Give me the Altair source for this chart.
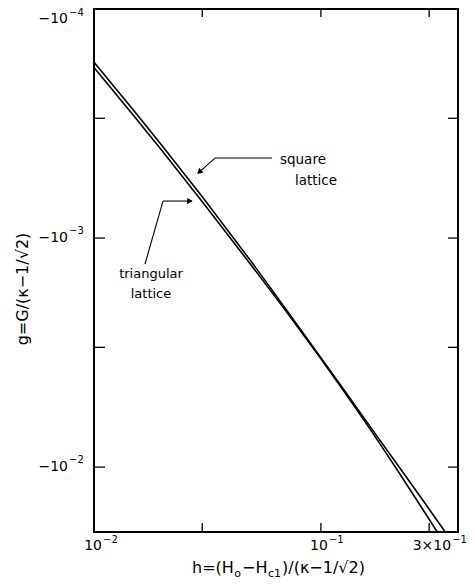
import altair as alt
import pandas as pd

# ---- data ----
h_vals = [0.01, 0.015, 0.02, 0.03, 0.05, 0.07, 0.1, 0.13, 0.17, 0.22, 0.28, 0.33, 0.36]
g_square = [1.71e-4, 2.78e-4, 3.96e-4, 6.60e-4, 1.289e-3, 2.038e-3, 3.331e-3,
            4.786e-3, 6.947e-3, 9.913e-3, 1.385e-2, 1.745e-2, 1.973e-2]
g_triangular = [1.80e-4, 2.93e-4, 4.17e-4, 6.94e-4, 1.337e-3, 2.076e-3, 3.362e-3,
                4.853e-3, 7.142e-3, 1.050e-2, 1.519e-2, 1.958e-2, 2.24e-2]

# tick labels: value, mantissa text, exponent text
x_label_values = [0.01, 0.1, 0.3]
x_label_base = ["10", "10", "3\u00d710"]
x_label_exp = ["\u22122", "\u22121", "\u22121"]
y_label_values = [1e-4, 1e-3, 1e-2]
y_label_base = ["\u221210", "\u221210", "\u221210"]
y_label_exp = ["\u22124", "\u22123", "\u22122"]
x_minor_ticks = [0.03, 0.1, 0.3]
y_minor_ticks = [3e-4, 1e-3, 3e-3, 1e-2]

# annotation positions (data coordinates)
seg_h = [0.03412, 0.03412, 0.01678, 0.02014]
seg_g = [4.474e-4, 4.474e-4, 1.299e-3, 6.894e-4]
seg_h2 = [0.06084, 0.02960, 0.02014, 0.02700]
seg_g2 = [4.474e-4, 5.08e-4, 6.894e-4, 6.894e-4]
head_h = [0.02910, 0.02647]
head_g = [5.15e-4, 6.894e-4]
head_angle = [138, 0]

txt_sq_h = [0.0660, 0.0768]
txt_sq_g = [4.565e-4, 5.638e-4]
txt_sq = ["square", "lattice"]
txt_tr_h = [0.01783, 0.01783]
txt_tr_g = [1.436e-3, 1.757e-3]
txt_tr = ["triangular", "lattice"]

# axis titles, split into normal / subscript pieces
x_title_parts = ["h=(H", "o", "\u2212H", "c1", ")/(\u03ba\u22121/\u221a2)"]
x_title_sub = [False, True, False, True, False]
y_title = "g=G/(\u03ba\u22121/\u221a2)"

FONT = "DejaVu Sans"
W, H = 364, 523

lines_df = pd.DataFrame({
    "h": h_vals * 2,
    "g": g_square + g_triangular,
    "series": ["square"] * len(h_vals) + ["triangular"] * len(h_vals),
})

xscale = alt.Scale(type="log", domain=[0.01, 0.402], nice=False)
yscale = alt.Scale(type="log", domain=[1e-4, 1.92e-2], nice=False, reverse=True)
base_x = alt.X("h:Q", scale=xscale, axis=None)
base_y = alt.Y("g:Q", scale=yscale, axis=None)

layers = []

lines = alt.Chart(lines_df).mark_line(clip=True, color="black", strokeWidth=1.6).encode(
    x=base_x, y=base_y, detail="series:N")
layers.append(lines)

xt = pd.DataFrame({"h": x_minor_ticks})
yt = pd.DataFrame({"g": y_minor_ticks})
layers += [
    alt.Chart(xt).mark_rule(color="black", strokeWidth=1.3).encode(
        x=base_x, y=alt.value(H), y2=alt.value(H - 9)),
    alt.Chart(xt).mark_rule(color="black", strokeWidth=1.3).encode(
        x=base_x, y=alt.value(0), y2=alt.value(8)),
    alt.Chart(yt).mark_rule(color="black", strokeWidth=1.3).encode(
        y=base_y, x=alt.value(0), x2=alt.value(11)),
    alt.Chart(yt).mark_rule(color="black", strokeWidth=1.3).encode(
        y=base_y, x=alt.value(W - 10), x2=alt.value(W)),
]

# x tick labels (mantissa right-aligned at anchor, exponent raised after it)
for val, b, e, dx in zip(x_label_values, x_label_base, x_label_exp, [8, 7, 22]):
    d = pd.DataFrame({"h": [val], "b": [b], "e": [e]})
    layers.append(alt.Chart(d).mark_text(align="right", baseline="middle", dx=dx,
                                         font=FONT, fontSize=14, color="black")
                  .encode(x=base_x, y=alt.value(H + 14), text="b:N"))
    layers.append(alt.Chart(d).mark_text(align="left", baseline="middle", dx=dx + 1,
                                         font=FONT, fontSize=10, color="black")
                  .encode(x=base_x, y=alt.value(H + 8), text="e:N"))

# y tick labels
for val, b, e, dy, edy in zip(y_label_values, y_label_base, y_label_exp, [10, 0, 0], [4, -7, -7]):
    d = pd.DataFrame({"g": [val], "b": [b], "e": [e]})
    layers.append(alt.Chart(d).mark_text(align="right", baseline="middle", dy=dy,
                                         font=FONT, fontSize=14, color="black")
                  .encode(y=base_y, x=alt.value(-26), text="b:N"))
    layers.append(alt.Chart(d).mark_text(align="left", baseline="middle", dy=edy,
                                         font=FONT, fontSize=10, color="black")
                  .encode(y=base_y, x=alt.value(-25), text="e:N"))

# x axis title, pieces placed one after another (DejaVu Sans advance widths)
adv = {"h": 0.634, "=": 0.838, "(": 0.390, ")": 0.390, "H": 0.752, "o": 0.612,
       "\u2212": 0.838, "c": 0.550, "1": 0.636, "/": 0.337, "\u03ba": 0.580,
       "\u221a": 0.636, "2": 0.636}
xpos = 98
for part, sub in zip(x_title_parts, x_title_sub):
    fs = 11 if sub else 16
    layers.append(alt.Chart(pd.DataFrame({"t": [part]})).mark_text(
        align="left", baseline="middle", font=FONT, fontSize=fs, color="black")
        .encode(x=alt.value(xpos), y=alt.value(H + 36 + (6 if sub else 0)), text="t:N"))
    xpos += sum(adv.get(ch, 0.6) for ch in part) * fs + (1 if sub else 0.5)

# y axis title
layers.append(alt.Chart(pd.DataFrame({"t": [y_title]})).mark_text(
    align="center", baseline="middle", angle=270, font=FONT, fontSize=16, color="black")
    .encode(x=alt.value(-71), y=alt.value(280), text="t:N"))

# annotations
seg_df = pd.DataFrame({"h": seg_h, "g": seg_g, "h2": seg_h2, "g2": seg_g2})
layers.append(alt.Chart(seg_df).mark_rule(color="black", strokeWidth=1.1).encode(
    x=base_x, y=base_y, x2="h2:Q", y2="g2:Q"))

head_df = pd.DataFrame({"h": head_h, "g": head_g, "angle": head_angle})
layers.append(alt.Chart(head_df).mark_point(shape="triangle-right", filled=True, color="black",
                                            size=40, opacity=1).encode(
    x=base_x, y=base_y, angle=alt.Angle("angle:Q", scale=None)))

sq_df = pd.DataFrame({"h": txt_sq_h, "g": txt_sq_g, "t": txt_sq})
layers.append(alt.Chart(sq_df).mark_text(align="left", baseline="middle", font=FONT,
                                         fontSize=13.5, color="black").encode(
    x=base_x, y=base_y, text="t:N"))
tr_df = pd.DataFrame({"h": txt_tr_h, "g": txt_tr_g, "t": txt_tr})
layers.append(alt.Chart(tr_df).mark_text(align="center", baseline="middle", font=FONT,
                                         fontSize=13, color="black").encode(
    x=base_x, y=base_y, text="t:N"))

chart = alt.layer(*layers).properties(
    width=W, height=H,
    padding={"left": 86, "top": 1, "right": 9, "bottom": 48},
    autosize=alt.AutoSizeParams(type="none"),
    background="white",
).configure_view(
    stroke="black", strokeWidth=2
)

chart.save("out.html", embed_options={"renderer": "svg", "actions": False})
